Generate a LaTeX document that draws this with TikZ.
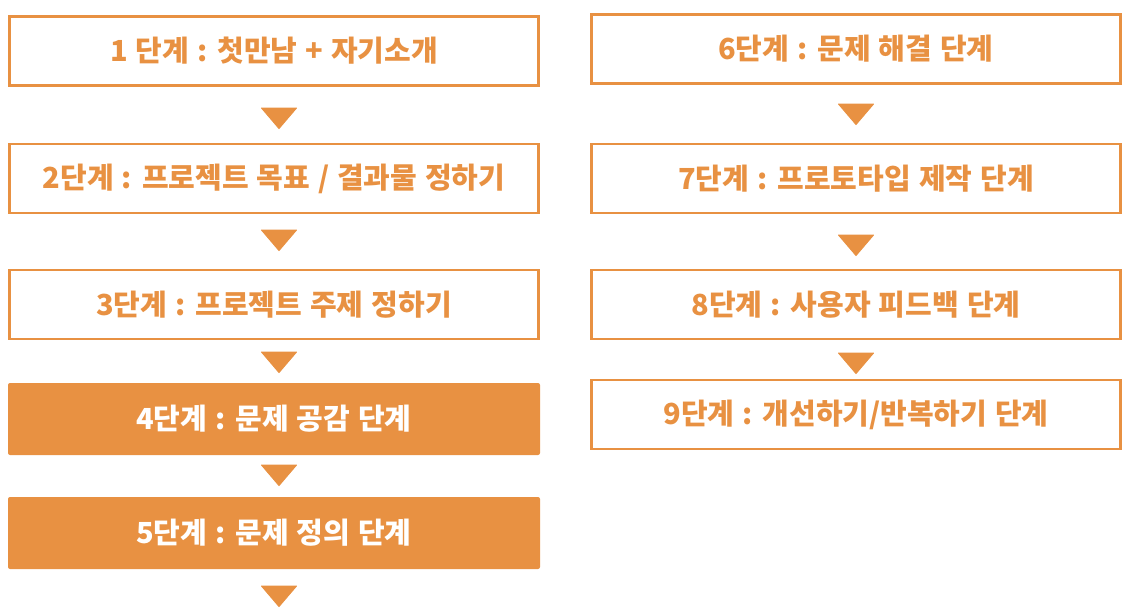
\documentclass[tikz,border=0pt]{standalone}
\usepackage{fontspec}
\setmainfont{Noto Sans CJK KR}[WordSpace=1.2]
\definecolor{orc}{RGB}{232,145,66}
\tikzset{
  stepbox/.style={draw=orc, line width=2.5pt, minimum width=529pt, minimum height=69pt,
    inner sep=0pt, text=orc, font=\bfseries\fontsize{29}{29}\selectfont},
  stepfill/.style={fill=orc, draw=none, rounded corners=2pt, minimum width=532pt, minimum height=72pt,
    inner sep=0pt, text=white, font=\bfseries\fontsize{29}{29}\selectfont},
  tri/.style={fill=orc, draw=orc, line width=1pt, line join=round}
}
\newcommand\downtri[2]{\filldraw[tri] (#1-17.5,#2) -- (#1+17.5,#2) -- (#1,#2+20.5) -- cycle;}
\begin{document}
\begin{tikzpicture}[x=1pt,y=-1pt]
\useasboundingbox (0,0) rectangle (1132,614);
% left column
\node[stepbox]  (s1) at (274,51)    {1 단계 : 첫만남 + 자기소개};
\node[stepbox]  (s2) at (274,178.5) {2단계 : 프로젝트 목표 / 결과물 정하기};
\node[stepbox]  (s3) at (274,304.5) {3단계 : 프로젝트 주제 정하기};
\node[stepfill] (s4) at (274,419)   {4단계 : 문제 공감 단계};
\node[stepfill] (s5) at (274,533)   {5단계 : 문제 정의 단계};
% right column
\node[stepbox]  (s6) at (856,49)    {6단계 : 문제 해결 단계};
\node[stepbox]  (s7) at (856,178.5) {7단계 : 프로토타입 제작 단계};
\node[stepbox]  (s8) at (856,304.5) {8단계 : 사용자 피드백 단계};
\node[stepbox]  (s9) at (856,414.5) {9단계 : 개선하기/반복하기 단계};
% triangles
\downtri{279}{108}
\downtri{279}{230}
\downtri{279}{352}
\downtri{279}{465}
\downtri{279}{586}
\downtri{856}{104}
\downtri{856}{235}
\downtri{856}{353}
\end{tikzpicture}
\end{document}
